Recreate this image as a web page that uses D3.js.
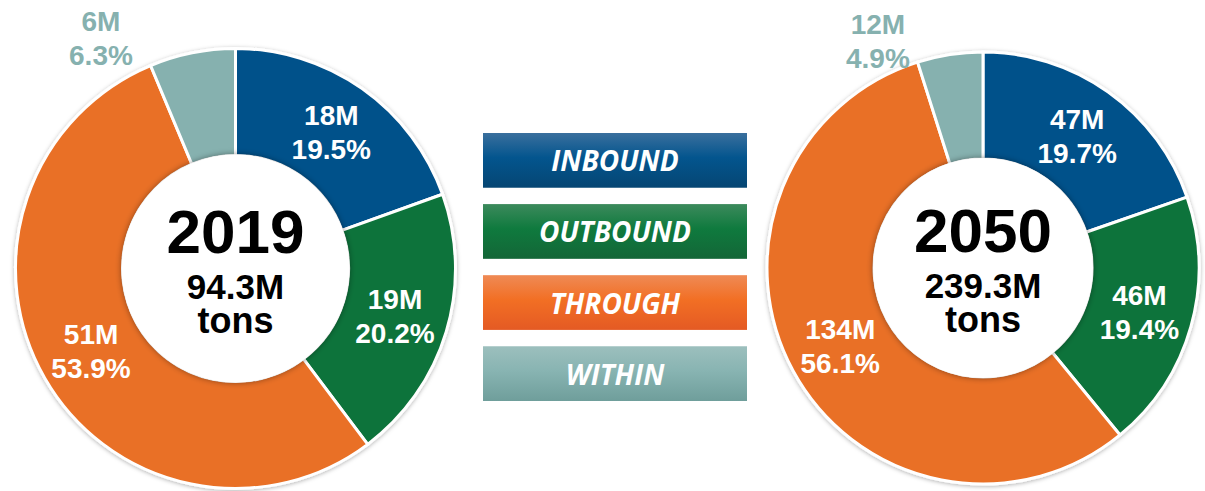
<!DOCTYPE html>
<html>
<head>
<meta charset="utf-8">
<script src="https://cdn.jsdelivr.net/npm/d3@7"></script>
<style>
  html, body { margin: 0; padding: 0; background: #fff; }
  svg { display: block; }
</style>
</head>
<body>
<svg id="chart" width="1205" height="491"></svg>
<script>
// ---- data ----
const categories = ["INBOUND", "OUTBOUND", "THROUGH", "WITHIN"];
const years = ["2019", "2050"];
const totals = ["94.3M", "239.3M"];
const pct2019 = [19.5, 20.2, 53.9, 6.3];
const tons2019 = [18, 19, 51, 6];
const pct2050 = [19.7, 19.4, 56.1, 4.9];
const tons2050 = [47, 46, 134, 12];

const colors = ["#03518a", "#10733b", "#e97026", "#86b1af"];
const gradStops = [
  ["#3a6f9d", "#03558e", "#064673"],
  ["#3c8a5c", "#0f7a3e", "#136637"],
  ["#ef8a55", "#f26f24", "#e45a24"],
  ["#9cbfbd", "#88b4b2", "#6f9e9b"]
];

const svg = d3.select("#chart");
const defs = svg.append("defs");

const sh = defs.append("filter").attr("id", "ringShadow")
  .attr("x", "-10%").attr("y", "-10%").attr("width", "120%").attr("height", "120%");
sh.append("feDropShadow").attr("dx", 0).attr("dy", 1).attr("stdDeviation", 2)
  .attr("flood-color", "#000").attr("flood-opacity", 0.3);

const sh2 = defs.append("filter").attr("id", "holeShadow")
  .attr("x", "-20%").attr("y", "-20%").attr("width", "140%").attr("height", "140%");
sh2.append("feDropShadow").attr("dx", 0).attr("dy", 0).attr("stdDeviation", 3)
  .attr("flood-color", "#000").attr("flood-opacity", 0.45);

gradStops.forEach((s, i) => {
  const g = defs.append("linearGradient").attr("id", "lg" + i)
    .attr("x1", 0).attr("y1", 0).attr("x2", 0).attr("y2", 1);
  g.append("stop").attr("offset", "0%").attr("stop-color", s[0]);
  g.append("stop").attr("offset", "45%").attr("stop-color", s[1]);
  g.append("stop").attr("offset", "100%").attr("stop-color", s[2]);
});

const pie = d3.pie().sort(null).value(d => d.pct)
  .startAngle(0).endAngle(2 * Math.PI);

function drawDonut(cx, cy, rOuter, rInner, pcts, tons, year, total, outsideR, outsideShift) {
  const data = categories.map((c, i) => ({ cat: c, pct: pcts[i], tons: tons[i], i }));
  const arcs = pie(data);
  const arc = d3.arc().innerRadius(rInner).outerRadius(rOuter);
  const g = svg.append("g").attr("transform", `translate(${cx},${cy})`);

  const ring = g.append("g").attr("filter", "url(#ringShadow)");
  ring.selectAll("path").data(arcs).join("path")
    .attr("d", arc)
    .attr("fill", d => colors[d.data.i])
    .attr("stroke", "#fff").attr("stroke-width", 3).attr("stroke-linejoin", "miter");

  // raised white center disc
  g.append("circle").attr("r", rInner + 1).attr("fill", "#fff")
    .attr("filter", "url(#holeShadow)");

  // slice labels
  const labelArc = d3.arc().innerRadius((rInner + rOuter) / 2).outerRadius((rInner + rOuter) / 2);
  arcs.forEach(a => {
    let x, y, fill;
    if (a.data.pct < 10) {
      const ang = (a.startAngle + a.endAngle) / 2 - outsideShift;
      x = Math.sin(ang) * outsideR;
      y = -Math.cos(ang) * outsideR;
      fill = colors[3];
    } else {
      [x, y] = labelArc.centroid(a);
      fill = "#fff";
    }
    const t = g.append("text")
      .attr("x", x).attr("y", y)
      .attr("text-anchor", "middle")
      .attr("font-family", "'Liberation Sans', Arial, sans-serif")
      .attr("font-weight", "bold")
      .attr("font-size", 28)
      .attr("fill", fill);
    t.append("tspan").attr("x", x).attr("dy", -7).text(a.data.tons + "M");
    t.append("tspan").attr("x", x).attr("dy", 34).text(a.data.pct.toFixed(1) + "%");
  });

  // center text
  const font = "'Liberation Sans', Arial, sans-serif";
  g.append("text").attr("text-anchor", "middle").attr("font-family", font)
    .attr("font-weight", "bold").attr("fill", "#000")
    .attr("x", 0).attr("y", -16).attr("font-size", 62).text(year);
  g.append("text").attr("text-anchor", "middle").attr("font-family", font)
    .attr("font-weight", "bold").attr("fill", "#000")
    .attr("x", 0).attr("y", 30).attr("font-size", 35).text(total);
  g.append("text").attr("text-anchor", "middle").attr("font-family", font)
    .attr("font-weight", "bold").attr("fill", "#000")
    .attr("x", 0).attr("y", 64).attr("font-size", 36).text("tons");
}

drawDonut(235.5, 268.5, 220, 113, pct2019, tons2019, years[0], totals[0], 267, 0.33);
drawDonut(983, 268, 216, 109, pct2050, tons2050, years[1], totals[1], 250, 0.28);

// legend
const ly = d3.scaleBand().domain(categories).range([133, 401]).paddingInner(0.23);
const lg = svg.append("g");
categories.forEach((c, i) => {
  lg.append("rect").attr("x", 483).attr("y", ly(c))
    .attr("width", 264).attr("height", ly.bandwidth())
    .attr("fill", `url(#lg${i})`);
  lg.append("text").attr("x", 615).attr("y", ly(c) + ly.bandwidth() / 2 + 11)
    .attr("text-anchor", "middle")
    .attr("font-family", "'Open Sans', sans-serif")
    .attr("font-weight", "bold").attr("font-style", "italic")
    .attr("font-size", 28).attr("fill", "#fff")
    .text(c);
});
</script>
</body>
</html>
